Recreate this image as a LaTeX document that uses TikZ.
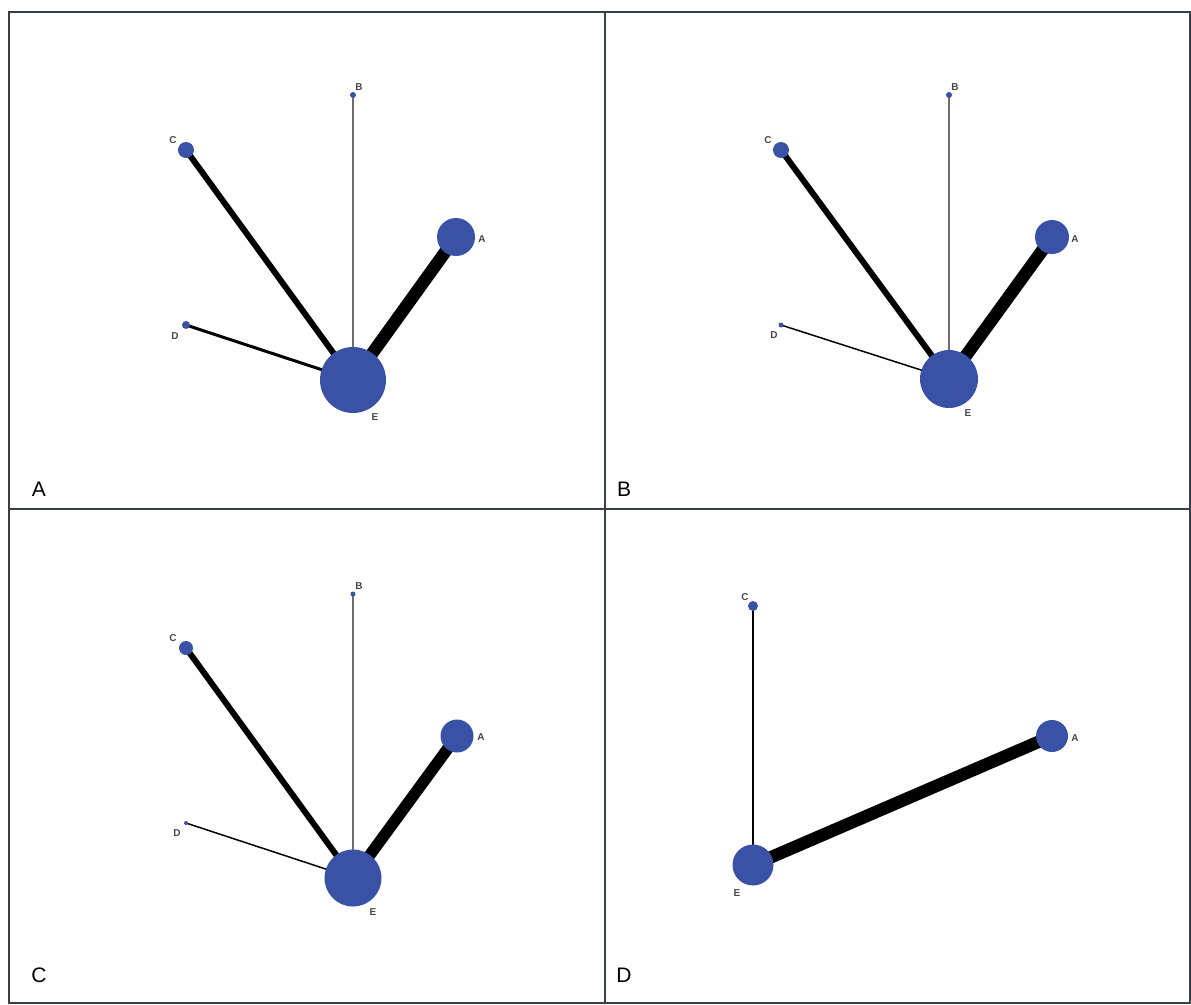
\documentclass[tikz,border=0pt]{standalone}
\usepackage{fontspec}
\setmainfont{Liberation Sans}
\usepackage{tikz}
\usetikzlibrary{positioning, backgrounds}

\definecolor{nodeblue}{RGB}{57,82,166}
\definecolor{lblgray}{RGB}{70,70,70}
\definecolor{framegray}{RGB}{55,64,68}
\definecolor{edgegray}{RGB}{110,110,110}

\tikzset{
  trt/.style={circle, fill=nodeblue, draw=none, inner sep=0pt, minimum size=#1},
  lbl/.style={font=\fontsize{10}{12}\selectfont\bfseries, text=lblgray, inner sep=0pt},
  panel/.style={font=\fontsize{21}{24}\selectfont, inner sep=0pt},
  link/.style={line width=#1, draw=black},
  thinlink/.style={line width=1.1pt, draw=edgegray},
  frame/.style={line width=2pt, draw=framegray}
}

\begin{document}
\begin{tikzpicture}[x=1pt, y=-1pt]
        \useasboundingbox (0,0) rectangle (1191,1004);

        % Panel frames
        \draw[frame] (8.5,12) rectangle (1190,1003);
        \draw[frame] (604.5,12) -- (604.5,1003);
        \draw[frame] (8.5,508.5) -- (1190,508.5);

        % ---- Panel A ----
        \node[trt=6pt]  (aB) at (353,95)  {};
        \node[trt=16pt] (aC) at (186,150) {};
        \node[trt=38pt] (aA) at (456,237) {};
        \node[trt=8pt]  (aD) at (186,325) {};
        \node[trt=66pt] (aE) at (353,380) {};
        \node[lbl] (aBl) at (359,87)  {B};
        \node[lbl] (aCl) at (173,140) {C};
        \node[lbl] (aAl) at (482,239) {A};
        \node[lbl] (aDl) at (175,336) {D};
        \node[lbl] (aEl) at (375,417) {E};
        \begin{scope}[on background layer]
            \draw[link=12.5pt] (aE.center) -- (aA.center);
            \draw[link=6pt]    (aE.center) -- (aC.center);
            \draw[link=3pt]    (aE.center) -- (aD.center);
            \draw[thinlink]    (aE.center) -- (aB.center);
        \end{scope}
        \node[panel] (pA) at (39,489) {A};

        % ---- Panel B ----
        \node[trt=6pt]  (bB) at (949,95)  {};
        \node[trt=16pt] (bC) at (781,150) {};
        \node[trt=34pt] (bA) at (1052,237) {};
        \node[trt=5pt]  (bD) at (781,325) {};
        \node[trt=58pt] (bE) at (949,379) {};
        \node[lbl] (bBl) at (955,87)  {B};
        \node[lbl] (bCl) at (768,140) {C};
        \node[lbl] (bAl) at (1075,239) {A};
        \node[lbl] (bDl) at (774,335) {D};
        \node[lbl] (bEl) at (968,413) {E};
        \begin{scope}[on background layer]
            \draw[link=12.5pt] (bE.center) -- (bA.center);
            \draw[link=6pt]    (bE.center) -- (bC.center);
            \draw[link=1.5pt]  (bE.center) -- (bD.center);
            \draw[thinlink]    (bE.center) -- (bB.center);
        \end{scope}
        \node[panel] (pB) at (624,489) {B};

        % ---- Panel C ----
        \node[trt=5pt]  (cB) at (353,594) {};
        \node[trt=14pt] (cC) at (186,648) {};
        \node[trt=33pt] (cA) at (457,736) {};
        \node[trt=4pt]  (cD) at (186,823) {};
        \node[trt=57pt] (cE) at (353,878) {};
        \node[lbl] (cBl) at (359,586) {B};
        \node[lbl] (cCl) at (173,638) {C};
        \node[lbl] (cAl) at (481,737) {A};
        \node[lbl] (cDl) at (177,833) {D};
        \node[lbl] (cEl) at (373,912) {E};
        \begin{scope}[on background layer]
            \draw[link=11.5pt] (cE.center) -- (cA.center);
            \draw[link=6pt]    (cE.center) -- (cC.center);
            \draw[link=1.5pt]  (cE.center) -- (cD.center);
            \draw[thinlink]    (cE.center) -- (cB.center);
        \end{scope}
        \node[panel] (pC) at (39,975) {C};

        % ---- Panel D ----
        \node[trt=10pt] (dC) at (753,606) {};
        \node[trt=32pt] (dA) at (1052,736) {};
        \node[trt=41pt] (dE) at (753,865) {};
        \node[lbl] (dCl) at (745,597) {C};
        \node[lbl] (dAl) at (1075,738) {A};
        \node[lbl] (dEl) at (737,893) {E};
        \begin{scope}[on background layer]
            \draw[link=12.5pt] (dE.center) -- (dA.center);
            \draw[link=2.5pt]  (dE.center) -- (dC.center);
        \end{scope}
        \node[panel] (pD) at (624,975) {D};

\end{tikzpicture}
\end{document}
